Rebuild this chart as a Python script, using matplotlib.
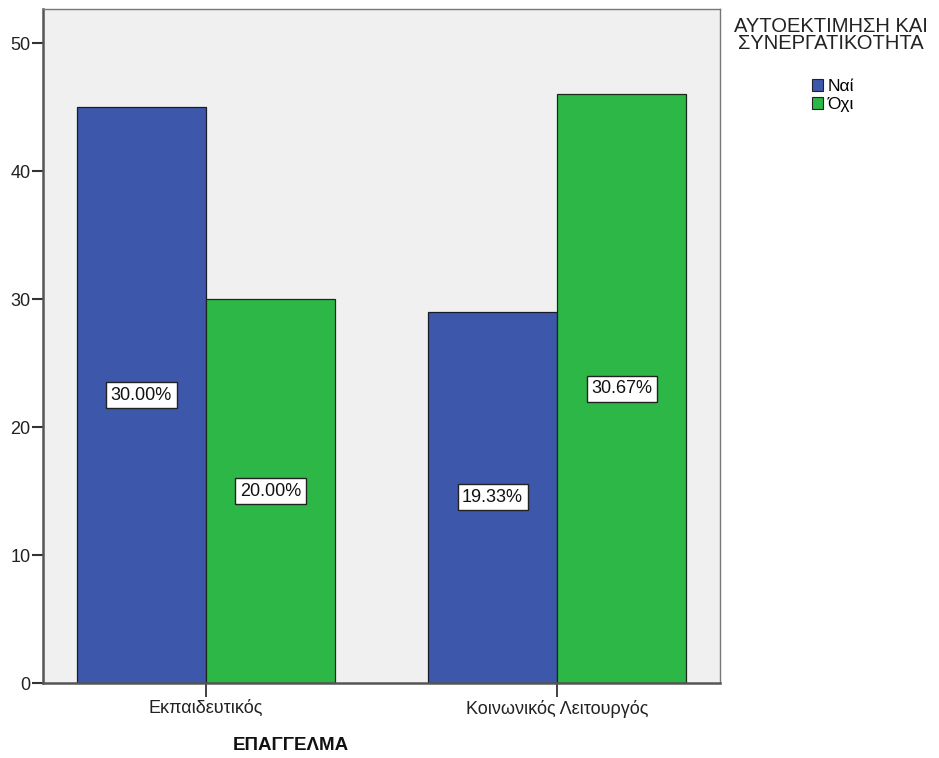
import matplotlib
matplotlib.use("Agg")
import matplotlib.pyplot as plt
import numpy as np
from matplotlib.patches import Patch

plt.rcParams['font.family'] = ['Liberation Sans', 'DejaVu Sans']

categories = ["Εκπαιδευτικός", "Κοινωνικός Λειτουργός"]
series_names = ["Ναί", "Όχι"]
values_nai = [45, 29]
values_oxi = [30, 46]
labels_nai = ["30.00%", "19.33%"]
labels_oxi = ["20.00%", "30.67%"]
yticks = [0, 10, 20, 30, 40, 50]
legend_title = "ΑΥΤΟΕΚΤΙΜΗΣΗ ΚΑΙ\nΣΥΝΕΡΓΑΤΙΚΟΤΗΤΑ"
xlabel = "ΕΠΑΓΓΕΛΜΑ"

blue = "#3D57AB"
green = "#2DB747"

W, H = 939, 758
fig = plt.figure(figsize=(W / 100, H / 100), dpi=100)
ax = fig.add_axes([43 / W, 1 - 683 / H, (720 - 43) / W, (683 - 9) / H])
ax.set_facecolor("#F0F0F0")

x = np.arange(len(categories))
bw = 0.3675
b1 = ax.bar(x - bw / 2, values_nai, bw, color=blue, edgecolor="#1a1a2a", linewidth=0.9, zorder=2)
b2 = ax.bar(x + bw / 2, values_oxi, bw, color=green, edgecolor="#1a2a1a", linewidth=0.9, zorder=2)

for bars, labs in [(b1, labels_nai), (b2, labels_oxi)]:
    for rect, lab in zip(bars, labs):
        ax.text(rect.get_x() + rect.get_width() / 2, rect.get_height() / 2, lab,
                ha="center", va="center", fontsize=13, color="#111111", zorder=3,
                bbox=dict(boxstyle="square,pad=0.25", facecolor="white", edgecolor="#222222", linewidth=1.0))

ax.set_xlim(-0.464, 1.464)
ax.set_ylim(0, 52.66)
ax.set_yticks(yticks)
ax.set_xticks(x)
ax.set_xticklabels(categories)
ax.tick_params(axis="y", direction="out", length=8, width=1.5, color="#333333", labelsize=13, pad=1,
               labelcolor="#222222")
ax.tick_params(axis="x", direction="out", length=10, width=1.2, color="#222222", labelsize=13, pad=2,
               labelcolor="#222222")
for s in ["left", "bottom"]:
    ax.spines[s].set_color("#555555")
    ax.spines[s].set_linewidth(1.8)
for s in ["top", "right"]:
    ax.spines[s].set_color("#777777")
    ax.spines[s].set_linewidth(1.0)
ax.spines["bottom"].set_zorder(4)

fig.text(291 / W, 1 - 745 / H, xlabel, ha="center", va="center", fontsize=13.5, fontweight="bold",
         color="#111111")

fig.text(831 / W, 1 - 35 / H, legend_title, ha="center", va="center", fontsize=14.5,
         linespacing=0.9, color="#222222")
handles = [Patch(facecolor=blue, edgecolor="#222222", linewidth=0.8),
           Patch(facecolor=green, edgecolor="#222222", linewidth=0.8)]
fig.legend(handles, series_names, loc="upper left", bbox_to_anchor=(812 / W, 1 - 79 / H),
           frameon=False, fontsize=12.5, handlelength=0.66, handleheight=0.66, handletextpad=0.25,
           labelspacing=0.18, borderpad=0, borderaxespad=0)

fig.savefig("out.png", dpi=100)
